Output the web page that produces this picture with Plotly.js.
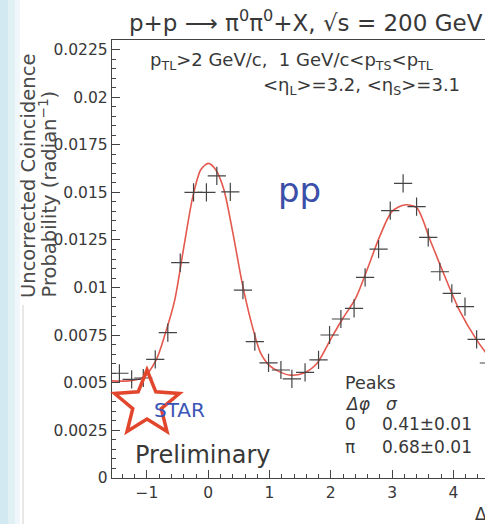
<!DOCTYPE html>
<html><head><meta charset="utf-8">
<script src="https://cdn.plot.ly/plotly-3.0.1.min.js"></script>
<style>html,body{margin:0;padding:0;overflow:hidden;background:#fff}#chart{width:500px;height:524px}</style>
</head><body><div id="chart"></div>
<script>
// measured points (crosses)
const dphi = [-1.45, -1.25, -1.06, -0.865, -0.66, -0.457, -0.24, -0.03, 0.14, 0.36, 0.566, 0.76, 0.984, 1.186, 1.365, 1.58, 1.80, 1.98, 2.165, 2.38, 2.56, 2.78, 2.97, 3.18, 3.40, 3.59, 3.78, 3.975, 4.19, 4.38, 4.58];
const prob = [0.0055, 0.00518, 0.00525, 0.00623, 0.00763, 0.01131, 0.0150, 0.0150, 0.01586, 0.01503, 0.00987, 0.00716, 0.00605, 0.00567, 0.0052, 0.00555, 0.0062, 0.00751, 0.00835, 0.00891, 0.01054, 0.01202, 0.01404, 0.01547, 0.01425, 0.01264, 0.01083, 0.0097, 0.009, 0.00728, 0.00604];
// fit curve
const fitDphi = [-1.571, -1.3, -1.05, -0.85, -0.7, -0.55, -0.4, -0.25, -0.12, 0, 0.12, 0.25, 0.4, 0.55, 0.7, 0.85, 1.0, 1.15, 1.34, 1.55, 1.77, 2.0, 2.2, 2.4, 2.6, 2.8, 3.0, 3.2, 3.4, 3.62, 3.84, 4.1, 4.38, 4.712];
const fitProb = [0.0051, 0.0051, 0.0053, 0.0062, 0.0076, 0.0093, 0.0121, 0.0148, 0.0162, 0.01652, 0.0162, 0.0152, 0.0129, 0.0103, 0.0082, 0.0066, 0.0059, 0.0056, 0.0054, 0.0055, 0.0060, 0.0073, 0.0084, 0.0094, 0.0110, 0.0127, 0.0140, 0.01434, 0.0142, 0.0125, 0.01075, 0.0088, 0.00725, 0.0058];
const xTickVals = [-1, 0, 1, 2, 3, 4];
const xTickText = ['\u22121', '0', '1', '2', '3', '4'];
const yTickVals = [0, 0.0025, 0.005, 0.0075, 0.01, 0.0125, 0.015, 0.0175, 0.02, 0.0225];
const yTickText = ['0', '0.0025', '0.005', '0.0075', '0.01', '0.0125', '0.015', '0.0175', '0.02', '0.0225'];

const W = 500, H = 524, ML = 112, MR = 3, MT = 40, MB = 46;
const PW = W - ML - MR, PH = H - MT - MB;
const px = p => (p - ML) / PW;
const py = p => (H - MB - p) / PH;
const FONT = 'DejaVu Sans, Liberation Sans, sans-serif';
const TXT = '#383838';

function starPath(cx, cy, ro, ri) {
  let d = '';
  for (let k = 0; k < 10; k++) {
    const r = k % 2 === 0 ? ro : ri;
    const a = (-90 + k * 36) * Math.PI / 180;
    const X = px(cx + r * Math.cos(a)), Y = py(cy + r * Math.sin(a));
    d += (k === 0 ? 'M' : 'L') + X.toFixed(4) + ',' + Y.toFixed(4) + ' ';
  }
  return d + 'Z';
}

const traces = [
  {x: fitDphi, y: fitProb, type: 'scatter', mode: 'lines',
   line: {color: 'rgb(228,88,78)', width: 1.6, shape: 'spline', smoothing: 0.8}, hoverinfo: 'skip'},
  {x: dphi, y: prob, type: 'scatter', mode: 'markers',
   marker: {symbol: 'cross-thin', size: 13, color: '#444', line: {color: '#444', width: 1.2}}, hoverinfo: 'skip'}
];

function ann(text, x, y, size, xanchor, extra) {
  return Object.assign({text: text, xref: 'paper', yref: 'paper', x: px(x), y: py(y), xanchor: xanchor || 'left', yanchor: 'middle',
    showarrow: false, font: {family: FONT, size: size, color: TXT}}, extra || {});
}

const annotations = [
  ann('p+p \u27F6 \u03C0<sup>0</sup>\u03C0<sup>0</sup>+X, \u221As = 200 GeV', 127, 21, 23),
  ann('p<sub>TL</sub>&gt;2 GeV/c,\u00A0 1 GeV/c&lt;p<sub>TS</sub>&lt;p<sub>TL</sub>', 148, 61, 18),
  ann('&lt;\u03B7<sub>L</sub>&gt;=3.2, &lt;\u03B7<sub>S</sub>&gt;=3.1', 462, 86, 18, 'right'),
  ann('pp', 276, 190, 34, 'left', {font: {family: FONT, size: 34, color: '#3b4fa8'}}),
  ann('STAR', 152, 410, 20, 'left', {font: {family: FONT, size: 20, color: '#3a55b5'}}),
  ann('Preliminary', 133, 455, 24),
  ann('Peaks', 343, 383, 17.5),
  ann('<i>\u0394\u03C6</i>', 343, 404, 17),
  ann('<i>\u03C3</i>', 384, 404, 17),
  ann('0', 343, 424, 17),
  ann('0.41\u00B10.01', 380, 424, 17),
  ann('\u03C0', 343, 447, 17),
  ann('0.68\u00B10.01', 380, 447, 17),
  ann('\u0394\u03C6', 473, 514, 17),
  Object.assign(ann('Uncorrected Coincidence', 28, 300, 19.5, 'center', {font: {family: FONT, size: 19.5, color: '#4a4a4a'}}), {textangle: -90, yanchor: 'bottom'}),
  Object.assign(ann('Probability (radian<sup>\u22121</sup>)', 47, 300, 19.5, 'center', {font: {family: FONT, size: 19.5, color: '#4a4a4a'}}), {textangle: -90, yanchor: 'bottom'})
];

const shapes = [
  {type: 'rect', xref: 'paper', yref: 'paper', x0: px(0), x1: px(8), y0: py(H), y1: py(0), fillcolor: '#d2e9f1', line: {width: 0}, layer: 'below'},
  {type: 'rect', xref: 'paper', yref: 'paper', x0: px(8), x1: px(15), y0: py(H), y1: py(0), fillcolor: '#e1f0f5', line: {width: 0}, layer: 'below'},
  {type: 'rect', xref: 'paper', yref: 'paper', x0: px(15), x1: px(20), y0: py(H), y1: py(0), fillcolor: '#eff7fa', line: {width: 0}, layer: 'below'},
  {type: 'line', xref: 'paper', yref: 'paper', x0: px(23), x1: px(23), y0: py(305), y1: py(H), line: {color: '#cfcfcf', width: 1}, layer: 'below'},
  {type: 'path', xref: 'paper', yref: 'paper', path: starPath(147, 404, 34, 15), line: {color: '#e2462c', width: 3.5}, fillcolor: 'rgba(0,0,0,0)'}
];

const axisCommon = {showgrid: false, zeroline: false, showline: true, mirror: true, linecolor: '#444', linewidth: 1.2,
  ticks: 'inside', ticklen: 8, tickwidth: 1, tickcolor: '#444', tickmode: 'array',
  tickfont: {family: FONT, size: 15.5, color: TXT}};

const layout = {
  width: W, height: H, margin: {l: ML, r: MR, t: MT, b: MB},
  paper_bgcolor: '#fff', plot_bgcolor: '#fff', showlegend: false,
  xaxis: Object.assign({}, axisCommon, {range: [-Math.PI / 2, 3 * Math.PI / 2], tickvals: xTickVals, ticktext: xTickText,
    minor: {dtick: 0.2, tick0: 0, ticks: 'inside', ticklen: 4, tickcolor: '#444', showgrid: false}}),
  yaxis: Object.assign({}, axisCommon, {range: [0, 0.023], tickvals: yTickVals, ticktext: yTickText,
    minor: {dtick: 0.0005, tick0: 0, ticks: 'inside', ticklen: 4, tickcolor: '#444', showgrid: false}}),
  annotations: annotations, shapes: shapes
};

Plotly.newPlot('chart', traces, layout, {staticPlot: true, displayModeBar: false});
</script></body></html>
